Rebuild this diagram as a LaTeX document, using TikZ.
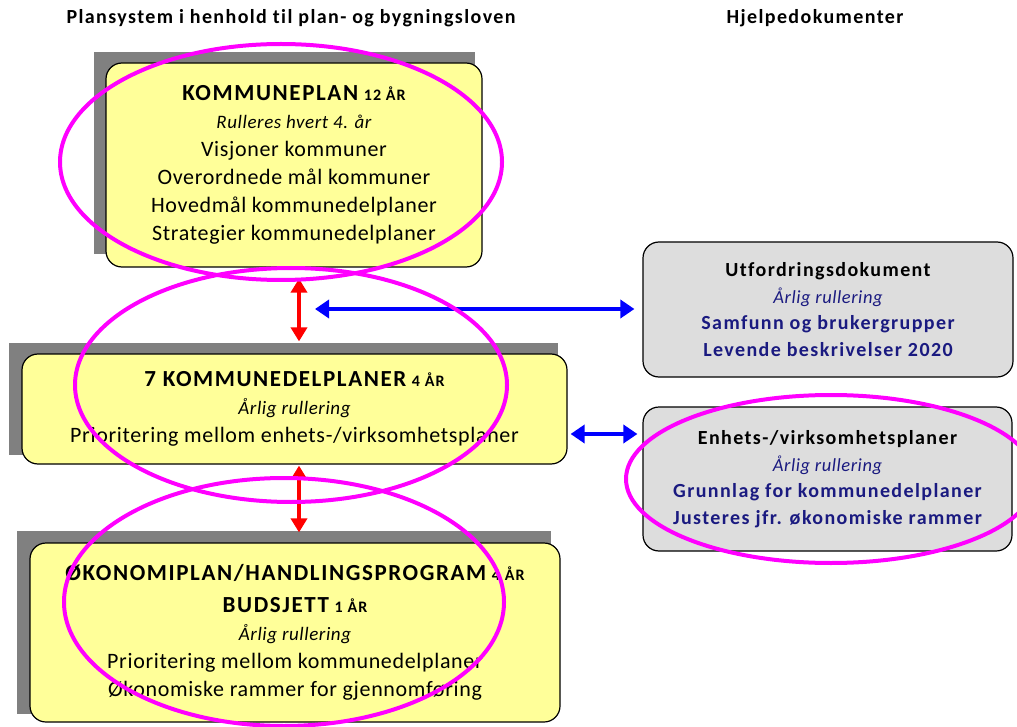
\documentclass[tikz,border=0pt]{standalone}
\usepackage{fontspec}
\setmainfont{Carlito}[LetterSpace=3, Ligatures=NoCommon, BoldFeatures={LetterSpace=7}]
\usetikzlibrary{arrows.meta, calc, positioning, backgrounds}
\definecolor{planyellow}{HTML}{FFFF99}
\definecolor{docgray}{HTML}{DDDDDD}
\definecolor{shadowgray}{HTML}{808080}
\definecolor{docblue}{HTML}{1A1A80}
\definecolor{ringpink}{HTML}{FF00FF}
\tikzset{
  planbox/.style={draw=black, line width=1.2pt, fill=planyellow, rounded corners=16pt,
    align=center, inner sep=0pt, font=\fontsize{22}{28}\selectfont},
  docbox/.style={draw=black, line width=1.2pt, fill=docgray, rounded corners=16pt,
    align=center, inner sep=0pt, font=\fontsize{20}{26.5}\selectfont\bfseries},
  heading/.style={font=\fontsize{20}{24}\selectfont\bfseries, inner sep=0pt},
  ring/.style={draw=ringpink, line width=4pt},
  redlink/.style={draw=red, line width=4pt, {Triangle[width=16pt,length=14pt]}-{Triangle[width=16pt,length=14pt]}},
  bluelink/.style={draw=blue, line width=4pt, {Triangle[width=18pt,length=14pt]}-{Triangle[width=18pt,length=14pt]}},
}
\newcommand{\titel}[1]{{\fontsize{23}{28}\selectfont\bfseries #1}}
\newcommand{\aar}[1]{{\fontsize{16}{28}\selectfont\bfseries #1}}

\begin{document}
\begin{tikzpicture}[x=1pt, y=-1pt]
    \useasboundingbox (0,0) rectangle (1017,727);
    % overskrifter
    \node[heading] (hplan) at (291,18) {Plansystem i henhold til plan- og bygningsloven};
    \node[heading] (hdok) at (815,18) {Hjelpedokumenter};
    % planer
    \node[planbox, minimum width=376pt, minimum height=204pt] (kp) at (294,165)
        {\titel{KOMMUNEPLAN} \aar{12 ÅR}\\
         {\fontsize{19}{28}\selectfont\itshape Rulleres hvert 4. år}\\
         Visjoner kommuner\\
         Overordnede mål kommuner\\
         Hovedmål kommunedelplaner\\
         Strategier kommunedelplaner};
    \node[planbox, minimum width=545pt, minimum height=110pt] (kdp) at (294.5,409)
        {\titel{7 KOMMUNEDELPLANER} \aar{4 ÅR}\\
         {\fontsize{19}{28}\selectfont\itshape Årlig rullering}\\
         Prioritering mellom enhets-/virksomhetsplaner};
    \node[planbox, minimum width=530pt, minimum height=179pt] (okp) at (295,632.5)
        {\titel{ØKONOMIPLAN/HANDLINGSPROGRAM} \aar{4 ÅR}\\[4pt]
         \titel{BUDSJETT} \aar{1 ÅR}\\
         {\fontsize{19}{28}\selectfont\itshape Årlig rullering}\\
         Prioritering mellom kommunedelplaner\\
         Økonomiske rammer for gjennomføring};
    % hjelpedokumenter
    \node[docbox, minimum width=370pt, minimum height=135pt] (ud) at (828,309.5)
        {Utfordringsdokument\\
         {\color{docblue}\fontsize{18.5}{26.5}\selectfont\mdseries\itshape Årlig rullering}\\
         {\color{docblue}Samfunn og brukergrupper}\\
         {\color{docblue}Levende beskrivelser 2020}};
    \node[docbox, minimum width=369pt, minimum height=144pt] (ep) at (827.5,479)
        {Enhets-/virksomhetsplaner\\
         {\color{docblue}\fontsize{18.5}{26.5}\selectfont\mdseries\itshape Årlig rullering}\\
         {\color{docblue}Grunnlag for kommunedelplaner}\\
         {\color{docblue}Justeres jfr. økonomiske rammer}};
    % skygger
    \begin{scope}[on background layer]
    \fill[shadowgray] ($(kp.north west)+(-11,-10)$) rectangle ($(kp.south east)+(-8,-14)$);
    \fill[shadowgray] ($(kdp.north west)+(-12,-10)$) rectangle ($(kdp.south east)+(-10,-10)$);
    \fill[shadowgray] ($(okp.north west)+(-12,-11)$) rectangle ($(okp.south east)+(-10,-9)$);
    \end{scope}
    % piler
    \coordinate (hub) at (315,309);
    \draw[redlink, shorten <=11pt, shorten >=12pt] ([xshift=5pt]kp.south) -- ([xshift=4.5pt]kdp.north);
    \draw[redlink, shorten <=1pt, shorten >=10pt] ([xshift=4.5pt]kdp.south) -- ([xshift=4pt]okp.north);
    \draw[bluelink, shorten >=8pt] (hub) -- (hub -| ud.west);
    \draw[bluelink, shorten <=3pt, shorten >=5pt] ([yshift=-25pt]kdp.east) -- ([yshift=-25pt]kdp.east -| ep.west);
    % ringer
    \draw[ring] (281,162) ellipse [x radius=221pt, y radius=118pt];
    \draw[ring] (291,385) ellipse [x radius=216pt, y radius=117pt];
    \draw[ring] (284,602) ellipse [x radius=220pt, y radius=124pt];
    \draw[ring] (831,479) ellipse [x radius=205pt, y radius=84pt];
\end{tikzpicture}
\end{document}
